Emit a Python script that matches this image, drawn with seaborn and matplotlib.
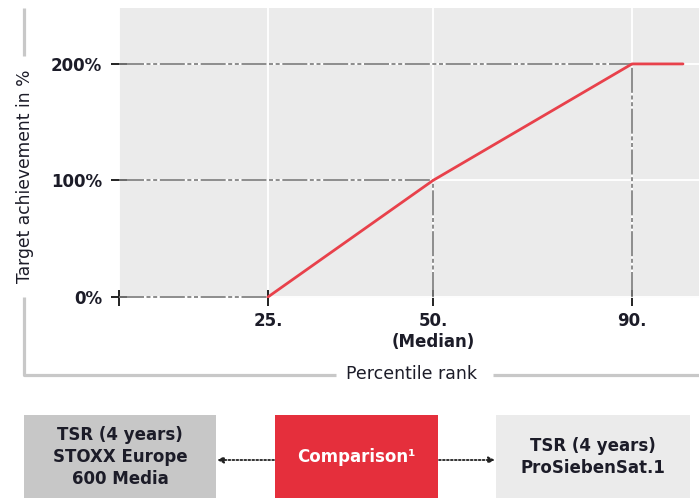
import numpy as np
import matplotlib
matplotlib.use("Agg")
import matplotlib.pyplot as plt
import seaborn as sns
import pandas as pd
from matplotlib.patches import Rectangle

# ---- data ----
percentile = [25, 50, 90, 100]
achievement = [0, 100, 200, 200]
ref_x = [25, 50, 90]
ref_y = [0, 100, 200]
x_ticks = [0, 25, 50, 90]
x_tick_labels = ["", "25.", "50.\n(Median)", "90."]
y_ticks = [0, 100, 200]
y_tick_labels = ["0%", "100%", "200%"]
box_texts = ["TSR (4 years)\nSTOXX Europe\n600 Media", "Comparison\u00b9", "TSR (4 years)\nProSiebenSat.1"]

df = pd.DataFrame({"pct": percentile, "ach": achievement})

sns.set_theme(style="darkgrid", rc={"axes.facecolor": "#ebebeb", "grid.color": "white",
                                    "grid.linewidth": 1.3})
plt.rcParams["font.family"] = ["DejaVu Sans"]

TXT = "#1c1c28"
W, H = 699, 503
fig = plt.figure(figsize=(W / 100, H / 100), dpi=100)
ax = fig.add_axes([119 / W, 1 - 298 / H, (W - 119) / W, (298 - 8) / H])

# non-linear percentile axis (piecewise)
bp_pct = np.array([0, 25, 50, 90, 100, 110], dtype=float)
bp_pix = np.array([0, 149, 314, 513, 564, 615], dtype=float)
def fwd(v):
    return np.interp(v, bp_pct, bp_pix)
def inv(u):
    return np.interp(u, bp_pix, bp_pct)
ax.set_xscale("function", functions=(fwd, inv))

dash = (0, (15, 1.5, 2.4, 1.6, 2.4, 1.6))
for px, py in zip(ref_x, ref_y):
    ax.hlines(py, 0, px, colors="#7a7a7a", linestyles=dash, lw=1.2, zorder=2)
    if py > 0:
        ax.vlines(px, 0, py, colors="#7a7a7a", linestyles=dash, lw=1.2, zorder=2)

sns.lineplot(data=df, x="pct", y="ach", color="#e8414b", lw=2.0, ax=ax, zorder=3)

ax.set_xlim(0, inv(580))
ax.set_ylim(-0.9, 248)
ax.set_xticks(x_ticks)
ax.set_xticklabels(x_tick_labels)
ax.set_yticks(y_ticks)
ax.set_yticklabels(y_tick_labels)
ax.set_xlabel("")
ax.set_ylabel("")
for s in ax.spines.values():
    s.set_visible(False)
ax.tick_params(axis="both", which="major", bottom=True, left=True, direction="inout",
               length=11, width=1.4, color="#222222", labelsize=12, labelcolor=TXT)
ax.tick_params(axis="x", pad=4.5)
ax.tick_params(axis="y", pad=6.5)
for lab in ax.get_xticklabels() + ax.get_yticklabels():
    lab.set_fontweight("bold")

# ---- overlay for framing decorations ----
ov = fig.add_axes([0, 0, 1, 1])
ov.set_xlim(0, W)
ov.set_ylim(H, 0)
ov.axis("off")
ov.patch.set_alpha(0)

lc = "#c8c8c8"
ov.plot([24, 24], [8, 56], color=lc, lw=2.3, solid_capstyle="butt")
ov.plot([24, 24, 336], [297, 375, 375], color=lc, lw=2.3, solid_capstyle="butt")
ov.plot([493, 699], [375, 375], color=lc, lw=2.3, solid_capstyle="butt")
ov.text(25, 176, "Target achievement in %", rotation=90, ha="center", va="center",
        fontsize=12.3, color=TXT)
ov.text(411, 374, "Percentile rank", ha="center", va="center", fontsize=12.5, color=TXT)

# boxes
boxes = [(24, 216, "#c7c7c7", TXT), (275, 438, "#e52f3c", "white"), (496, 690, "#ebebeb", TXT)]
for (x0, x1, fc, tc), t in zip(boxes, box_texts):
    ov.add_patch(Rectangle((x0, 415), x1 - x0, 83, facecolor=fc, edgecolor="none"))
    ov.text((x0 + x1) / 2, 457, t, ha="center", va="center", fontsize=12, fontweight="bold",
            color=tc, linespacing=1.28)

arrow = dict(arrowstyle="-|>", linestyle=(0, (1, 1.2)), color="#222222", lw=1.3,
             mutation_scale=9, shrinkA=0, shrinkB=0)
ov.annotate("", xy=(217, 460), xytext=(274, 460), arrowprops=arrow)
ov.annotate("", xy=(495, 460), xytext=(439, 460), arrowprops=arrow)

fig.savefig("out.png", dpi=100)
